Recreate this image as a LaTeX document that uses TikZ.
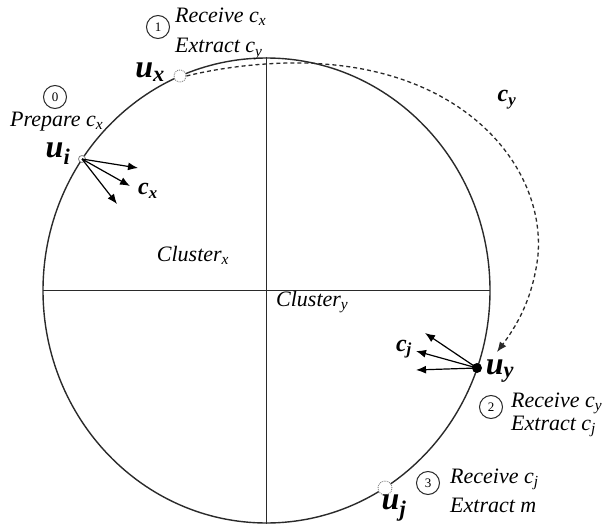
\documentclass[tikz,border=0pt]{standalone}
\usepackage{fontspec}
\setmainfont{Liberation Serif}
\usetikzlibrary{arrows.meta}
\newcommand{\lsub}[1]{\textsubscript{\itshape #1}}
\definecolor{ink}{HTML}{2A2A2A}
\tikzset{
  lbl/.style={font=\fontsize{22}{24}\selectfont\itshape, inner sep=0pt, anchor=west},
  clbl/.style={font=\fontsize{22}{24}\selectfont\itshape, inner sep=0pt},
  num/.style={draw=ink, circle, line width=1pt, minimum size=23pt, inner sep=0pt, font=\fontsize{13}{14}\selectfont},
  ulbl/.style={font=\fontsize{32}{32}\selectfont\bfseries\itshape, inner sep=0pt},
  cvec/.style={font=\fontsize{24}{24}\selectfont\bfseries\itshape, inner sep=0pt},
  frame/.style={draw=ink, line width=1.4pt},
  hollow/.style={circle, draw=gray, densely dotted, fill=white, inner sep=0pt, line width=0.9pt},
  vec/.style={draw=black, line width=1.2pt, -{Latex[length=10pt,width=8pt]}},
  msg/.style={draw=ink, line width=1.3pt, dash pattern=on 4pt off 3pt, -{Latex[length=10pt,width=8pt]}}
}
\begin{document}
\begin{tikzpicture}[x=1pt, y=-1pt]
\useasboundingbox (0,0) rectangle (605,524);
% cluster circle and dividers
\draw[frame] (266.5,290.5) ellipse [x radius=223.5, y radius=232.5];
\draw[frame] (266.5,57) -- (266.5,524);
\draw[frame] (43,290.5) -- (490,290.5);
% nodes on the ring
\node[hollow, minimum size=12pt] (ux) at (180,76) {};
\node[circle, draw=gray, fill=white, inner sep=0pt, minimum size=7pt, line width=0.8pt] (ui) at (82,159) {};
\node[circle, fill=black, inner sep=0pt, minimum size=10pt] (uy) at (477,368) {};
\node[hollow, minimum size=14pt] (uj) at (385,488) {};
% labels of ring nodes
\node[ulbl] (uxl) at (150,72) {u\lsub{x}};
\node[ulbl] (uil) at (58,154) {u\lsub{i}};
\node[ulbl] (uyl) at (500,371) {u\lsub{y}};
\node[ulbl] (ujl) at (394,508) {u\lsub{j}};
% step 0
\node[num] (n0) at (55,97) {0};
\node[lbl] (p0) at (10,122) {Prepare c\lsub{x}};
% step 1
\node[num] (n1) at (158,27) {1};
\node[lbl] (r1) at (175,17) {Receive c\lsub{x}};
\node[lbl] (e1) at (175,49) {Extract c\lsub{y}};
% step 2
\node[num] (n2) at (491,407) {2};
\node[lbl] (r2) at (511,403) {Receive c\lsub{y}};
\node[lbl] (e2) at (511,426) {Extract c\lsub{j}};
% step 3
\node[num] (n3) at (428,483) {3};
\node[lbl] (r3) at (450,479) {Receive c\lsub{j}};
\node[lbl] (e3) at (450,505) {Extract m};
% cluster names
\node[clbl] (cx) at (193,255) {Cluster\lsub{x}};
\node[clbl, anchor=west] (cy) at (276,302) {Cluster\lsub{y}};
% fragment arrows at u_i
\coordinate (a1) at (138,168);
\coordinate (a2) at (130,186);
\coordinate (a3) at (117,204);
\draw[vec] (ui.center) -- (a1);
\draw[vec] (ui.center) -- (a2);
\draw[vec] (ui.center) -- (a3);
\node[cvec] (cxl) at (148,191) {c\lsub{x}};
% fragment arrows at u_y
\coordinate (b1) at (425,333);
\coordinate (b2) at (416,351);
\coordinate (b3) at (416,370);
\draw[vec] (uy.center) -- (b1);
\draw[vec] (uy.center) -- (b2);
\draw[vec] (uy.center) -- (b3);
\node[cvec] (cjl) at (404,349) {c\lsub{j}};
% message c_y from u_x to u_y
\coordinate (tip) at (497,352);
\draw[msg] (ux.east) .. controls (235,64) and (290,61) .. (323,64)
  .. controls (470,74) and (545,170) .. (538,255)
  .. controls (533,300) and (515,328) .. (tip);
\node[cvec] (cyl) at (507,100) {c\lsub{y}};
\end{tikzpicture}
\end{document}
